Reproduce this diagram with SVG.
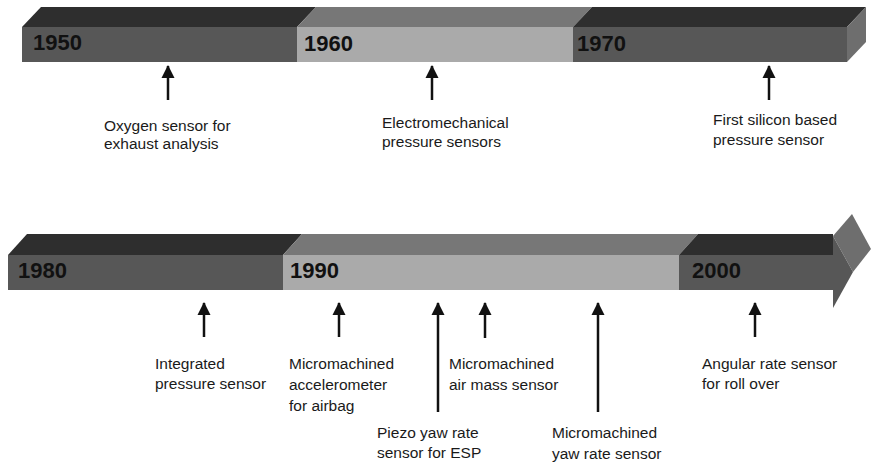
<svg xmlns="http://www.w3.org/2000/svg" width="871" height="464" viewBox="0 0 871 464">
<defs>
<style>
.fd{fill:#575757}
.fl{fill:#aaaaaa}
.td{fill:#2e2e2e}
.tm{fill:#777777}
.sd{fill:#6e6e6e}
.yr{font-family:"Liberation Sans",Arial,sans-serif;font-weight:bold;font-size:22px;fill:#111}
.lb{font-family:"Liberation Sans",Arial,sans-serif;font-size:15.5px;fill:#1a1a1a}
.ar{stroke:#111;stroke-width:2.5;fill:none;marker-end:url(#ah)}
</style>
<marker id="ah" markerUnits="userSpaceOnUse" markerWidth="14" markerHeight="14" viewBox="0 0 14 14" refX="12" refY="7" orient="auto">
<path d="M0,0.5 L13,7 L0,13.5 Z" fill="#111"/>
</marker>
</defs>
<rect width="871" height="464" fill="#fff"/>

<g id="timeline-top">
<g id="seg-1950">
<polygon class="td" points="22,27 41,7 316,7 297,27"/>
<rect class="fd" x="22" y="27" width="275" height="35"/>
<text class="yr" x="33" y="50">1950</text>
</g>
<g id="seg-1960">
<polygon class="tm" points="297,27 316,7 592,7 573,27"/>
<rect class="fl" x="297" y="27" width="276" height="35"/>
<text class="yr" x="304" y="51">1960</text>
</g>
<g id="seg-1970">
<polygon class="td" points="573,27 592,7 866,7 847,27"/>
<rect class="fd" x="573" y="27" width="274" height="35"/>
<polygon class="sd" points="847,27 866,7 866,42 847,62"/>
<text class="yr" x="577" y="51">1970</text>
</g>
</g>

<g id="timeline-bottom">
<g id="seg-1980">
<polygon class="td" points="8,255 27,234 302,234 283,255"/>
<rect class="fd" x="8" y="255" width="275" height="35"/>
<text class="yr" x="18" y="278">1980</text>
</g>
<g id="seg-1990">
<polygon class="tm" points="283,255 302,234 698,234 679,255"/>
<rect class="fl" x="283" y="255" width="396" height="35"/>
<text class="yr" x="290" y="278">1990</text>
</g>
<g id="seg-2000">
<polygon class="td" points="679,255 698,234 833,234 833,255"/>
<rect class="fd" x="679" y="255" width="154" height="35"/>
<polygon class="sd" points="833,236 852,214 871,249 853,272"/>
<polygon class="fd" points="833,236 853,272 833,308"/>
<text class="yr" x="692" y="278">2000</text>
</g>
</g>

<g id="connectors">
<line class="ar" x1="168" y1="100" x2="168" y2="66"/>
<line class="ar" x1="432" y1="100" x2="432" y2="66"/>
<line class="ar" x1="769" y1="100" x2="769" y2="66"/>
<line class="ar" x1="204" y1="337" x2="204" y2="303"/>
<line class="ar" x1="339" y1="337" x2="339" y2="303"/>
<line class="ar" x1="438" y1="412" x2="438" y2="303"/>
<line class="ar" x1="485" y1="338" x2="485" y2="303"/>
<line class="ar" x1="598" y1="412" x2="598" y2="303"/>
<line class="ar" x1="755" y1="337" x2="755" y2="303"/>
</g>

<g id="label-oxygen"><text class="lb" x="104" y="131">Oxygen sensor for</text><text class="lb" x="104" y="149">exhaust analysis</text></g>
<g id="label-electromech"><text class="lb" x="382" y="128">Electromechanical</text><text class="lb" x="382" y="147">pressure sensors</text></g>
<g id="label-silicon"><text class="lb" x="713" y="125">First silicon based</text><text class="lb" x="713" y="145">pressure sensor</text></g>
<g id="label-integrated"><text class="lb" x="155" y="369">Integrated</text><text class="lb" x="155" y="389">pressure sensor</text></g>
<g id="label-accel"><text class="lb" x="289" y="369">Micromachined</text><text class="lb" x="289" y="390">accelerometer</text><text class="lb" x="289" y="411">for airbag</text></g>
<g id="label-airmass"><text class="lb" x="449" y="369">Micromachined</text><text class="lb" x="449" y="390">air mass sensor</text></g>
<g id="label-piezo"><text class="lb" x="377" y="438">Piezo yaw rate</text><text class="lb" x="377" y="458">sensor for ESP</text></g>
<g id="label-yawrate"><text class="lb" x="552" y="438">Micromachined</text><text class="lb" x="552" y="459">yaw rate sensor</text></g>
<g id="label-angular"><text class="lb" x="702" y="369">Angular rate sensor</text><text class="lb" x="702" y="389">for roll over</text></g>
</svg>
